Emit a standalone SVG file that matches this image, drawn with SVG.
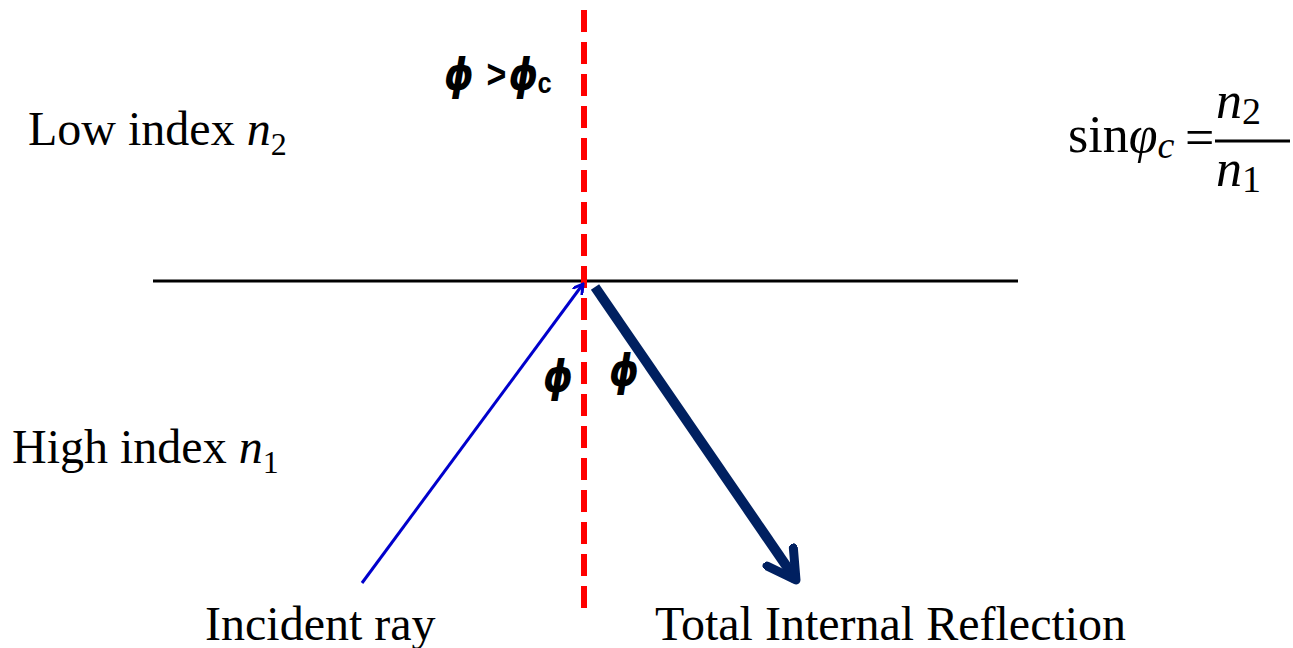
<svg xmlns="http://www.w3.org/2000/svg" width="1293" height="648" viewBox="0 0 1293 648">
<style>
.tr{font-family:"Liberation Serif",serif;font-size:48px;fill:#000}
.ph{font-family:"DejaVu Sans",sans-serif;font-weight:bold;font-style:italic;font-size:44px;fill:#000}
.sb{font-family:"Liberation Sans",sans-serif;font-weight:bold;font-style:normal}
.mt{font-family:"Liberation Serif",serif;font-size:52px;fill:#000}
</style>
<defs>
<marker id="ab" markerWidth="12" markerHeight="12" refX="10" refY="6" orient="auto" markerUnits="userSpaceOnUse" viewBox="0 0 12 12">
<path d="M0,0 L10,6 L0,12" fill="none" stroke="#0000cc" stroke-width="3"/>
</marker>
<marker id="an" markerWidth="40" markerHeight="40" refX="32" refY="20" orient="auto" markerUnits="userSpaceOnUse" viewBox="0 0 40 40">
<path d="M4,4 L32,20 L4,36" fill="none" stroke="#002060" stroke-width="9" stroke-linecap="round" stroke-linejoin="round"/>
</marker>
</defs>
<rect width="1293" height="648" fill="#fff"/>
<g id="connectors">
<line id="interface" x1="153" y1="281" x2="1018" y2="281" stroke="#000" stroke-width="3"/>
<line id="normal" x1="584" y1="10" x2="584" y2="612" stroke="#ff0000" stroke-width="6" stroke-dasharray="22,10"/>
<line id="incident" x1="362" y1="583" x2="583" y2="284" stroke="#0000cc" stroke-width="3" marker-end="url(#ab)"/>
<line id="reflected" x1="595" y1="287" x2="796" y2="580" stroke="#002060" stroke-width="10" marker-end="url(#an)"/>
</g>
<g id="labels">
<g id="condition" transform="translate(444,90) scale(0.85,1)">
<text class="ph" x="0" y="0">ϕ<tspan class="sb" x="50" dy="-2" font-size="40">&gt;</tspan><tspan x="76" dy="2">ϕ</tspan><tspan class="sb" x="110" dy="3" font-size="30">c</tspan></text>
</g>
<text class="tr" x="28" y="145">Low index <tspan font-style="italic">n</tspan><tspan font-size="32" dy="10">2</tspan></text>
<text class="tr" x="12" y="463">High index <tspan font-style="italic">n</tspan><tspan font-size="32" dy="10">1</tspan></text>
<text class="tr" x="205" y="640">Incident ray</text>
<text class="tr" x="655" y="640">Total Internal Reflection</text>
<text class="ph" x="543" y="392" textLength="30" lengthAdjust="spacingAndGlyphs">ϕ</text>
<text class="ph" x="609" y="386" textLength="30" lengthAdjust="spacingAndGlyphs">ϕ</text>
</g>
<g id="formula">
<text class="mt" x="1068" y="152">sin<tspan font-style="italic">φ</tspan><tspan font-style="italic" font-size="38" dy="6">c</tspan></text>
<text class="mt" x="1185" y="155" font-size="46">=</text>
<line x1="1215" y1="141" x2="1290" y2="141" stroke="#000" stroke-width="3"/>
<text class="mt" x="1216" y="118" font-style="italic">n<tspan font-style="normal" font-size="38" dy="6">2</tspan></text>
<text class="mt" x="1216" y="186" font-style="italic">n<tspan font-style="normal" font-size="38" dy="6">1</tspan></text>
</g>
</svg>
